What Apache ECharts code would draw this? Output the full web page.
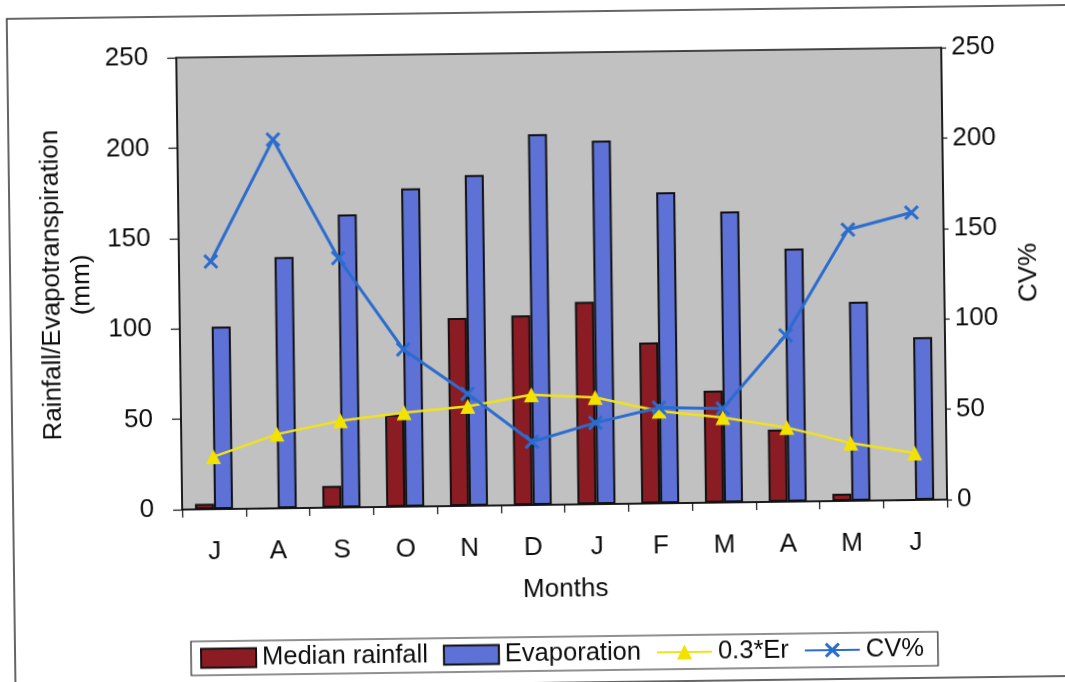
<!DOCTYPE html>
<html>
<head>
<meta charset="utf-8">
<script src="https://cdn.jsdelivr.net/npm/echarts@6/dist/echarts.min.js"></script>
<style>
  html, body { margin: 0; padding: 0; background: #ffffff; overflow: hidden; width: 1065px; height: 682px; }
  /* oversized canvas so its clipped edges stay outside the visible page */
  #chart { width: 1105px; height: 700px; margin-left: -20px; margin-top: -9px;
           transform: rotate(-0.75deg); transform-origin: 50% 50%; }
</style>
</head>
<body>
<div id="chart"></div>
<script>
// Monthly climate data (July to June)
const months = ['J', 'A', 'S', 'O', 'N', 'D', 'J', 'F', 'M', 'A', 'M', 'J'];
const medianRainfall = [3, 0, 12, 51, 104, 105, 112, 89, 62, 40, 4, 0];
const evaporation = [101, 139, 162, 176, 183, 205, 201, 172, 161, 140, 110, 90];
const er03 = [29, 41, 48, 52, 55, 61, 59, 51, 47, 41, 32, 26];
const cvPercent = [137, 204, 138, 87, 62, 35, 45, 53, 52, 92, 150, 159];

// Value axis range shared by both y axes
const axisMin = 0;
const axisMax = 250;
const axisStep = 50;

const FONT = '"Liberation Sans", Arial, sans-serif';
const INK = '#0d0d0d';

// Filled "X" marker outline
const crossSymbol = 'path://M0,1.4L1.4,0L5,3.6L8.6,0L10,1.4L6.4,5L10,8.6L8.6,10L5,6.4L1.4,10L0,8.6L3.6,5Z';

const chart = echarts.init(document.getElementById('chart'), null, { renderer: 'canvas' });

const valueAxisBase = {
  type: 'value',
  min: axisMin,
  max: axisMax,
  interval: axisStep,
  splitLine: { show: false },
  axisLine: { show: true, lineStyle: { color: '#111', width: 1.5 } },
  axisTick: { show: true, length: 9, lineStyle: { color: '#111', width: 1.2 } },
  nameLocation: 'middle',
  nameRotate: 90,
  nameTextStyle: { fontFamily: FONT, fontSize: 26, color: INK, lineHeight: 30 }
};

chart.setOption({
  animation: false,
  backgroundColor: 'transparent',
  textStyle: { fontFamily: FONT, color: INK },
  graphic: [{
    type: 'rect',
    silent: true,
    shape: { x: 31, y: 21, width: 1110, height: 671 },
    style: { fill: 'none', stroke: '#333', lineWidth: 1.5 }
  }],
  grid: {
    left: 200, right: 140, top: 62, bottom: 186,
    show: true,
    backgroundColor: '#c1c1c1',
    borderColor: '#111',
    borderWidth: 1.5
  },
  legend: {
    left: 207,
    top: 646,
    padding: [4, 14, 4, 9],
    itemGap: 15,
    itemWidth: 55,
    itemHeight: 19,
    borderColor: '#222',
    borderWidth: 1.2,
    backgroundColor: '#ffffff',
    textStyle: { fontFamily: FONT, fontSize: 25.5, color: INK, padding: [0, 0, 0, 1] },
    data: [
      { name: 'Median rainfall', icon: 'rect' },
      { name: 'Evaporation', icon: 'rect' },
      { name: '0.3*Er' },
      { name: 'CV%' }
    ]
  },
  xAxis: {
    type: 'category',
    data: months,
    boundaryGap: true,
    name: 'Months',
    nameLocation: 'middle',
    nameGap: 72,
    nameTextStyle: { fontFamily: FONT, fontSize: 26, color: INK },
    axisLine: { show: true, lineStyle: { color: '#111', width: 1.5 } },
    axisTick: { show: true, length: 8, alignWithLabel: false, lineStyle: { color: '#111', width: 1.2 } },
    axisLabel: { fontFamily: FONT, fontSize: 26, color: INK, margin: 30 },
    splitLine: { show: false }
  },
  yAxis: [
    Object.assign({}, valueAxisBase, {
      position: 'left',
      name: 'Rainfall/Evapotranspiration\n(mm)',
      nameGap: 76,
      axisLabel: { fontFamily: FONT, fontSize: 26, color: INK, margin: 28 }
    }),
    Object.assign({}, valueAxisBase, {
      position: 'right',
      name: 'CV%',
      nameGap: 70,
      axisTick: { show: true, length: 5, lineStyle: { color: '#111', width: 1.2 } },
      axisLabel: { fontFamily: FONT, fontSize: 26, color: INK, margin: 10 }
    })
  ],
  series: [
    {
      name: 'Median rainfall',
      type: 'bar',
      data: medianRainfall,
      barWidth: 19,
      barGap: '0%',
      itemStyle: { color: '#8c1c24', borderColor: '#111', borderWidth: 2 },
      z: 2
    },
    {
      name: 'Evaporation',
      type: 'bar',
      data: evaporation,
      barWidth: 19,
      barGap: '0%',
      itemStyle: { color: '#5d71d6', borderColor: '#111', borderWidth: 2 },
      z: 2
    },
    {
      name: '0.3*Er',
      type: 'line',
      yAxisIndex: 0,
      data: er03,
      symbol: 'triangle',
      symbolSize: 15,
      lineStyle: { color: '#f0e21c', width: 2.5 },
      itemStyle: { color: '#f3e100' },
      z: 3
    },
    {
      name: 'CV%',
      type: 'line',
      yAxisIndex: 1,
      data: cvPercent,
      symbol: crossSymbol,
      symbolSize: 15,
      lineStyle: { color: '#2b6ccf', width: 3 },
      itemStyle: { color: '#2b6ccf' },
      z: 4
    }
  ]
});
</script>
</body>
</html>
